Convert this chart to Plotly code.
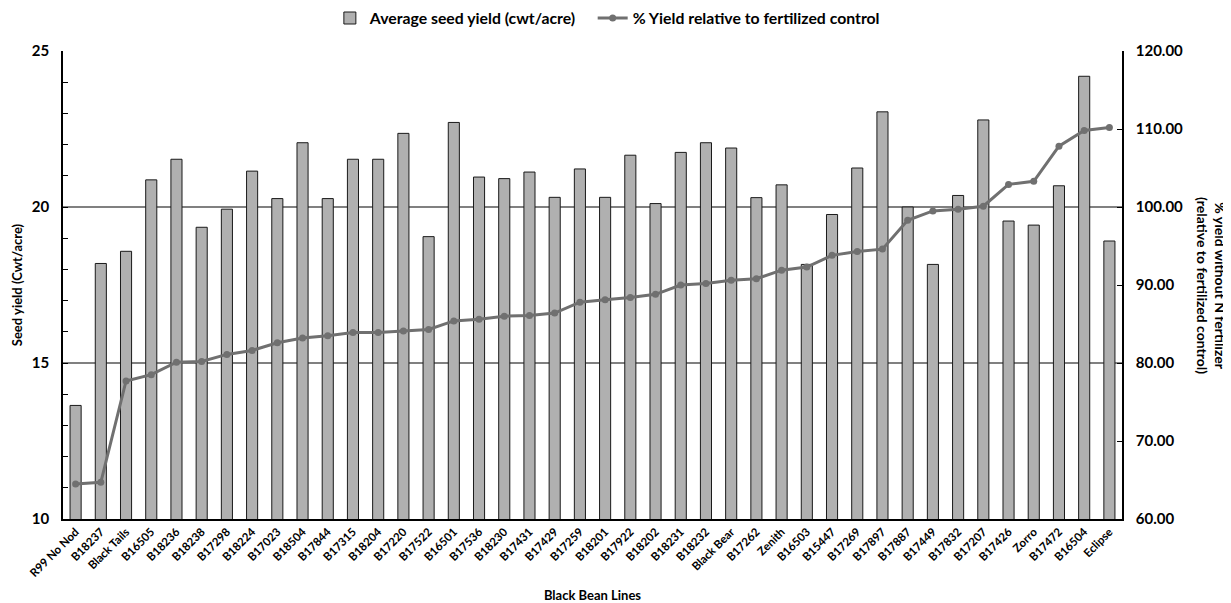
import plotly.graph_objects as go

lines = ["R99 No Nod", "B18237", "Black Tails", "B16505", "B18236", "B18238", "B17298",
         "B18224", "B17023", "B18504", "B17844", "B17315", "B18204", "B17220", "B17522",
         "B16501", "B17536", "B18230", "B17431", "B17429", "B17259", "B18201", "B17922",
         "B18202", "B18231", "B18232", "Black Bear", "B17262", "Zenith", "B16503", "B15447",
         "B17269", "B17897", "B17887", "B17449", "B17832", "B17207", "B17426", "Zorro",
         "B17472", "B16504", "Eclipse"]

seed_yield = [13.64, 18.19, 18.58, 20.87, 21.53, 19.35, 19.93, 21.15, 20.27, 22.06, 20.27,
              21.53, 21.53, 22.36, 19.05, 22.71, 20.96, 20.91, 21.12, 20.31, 21.22, 20.31,
              21.66, 20.11, 21.75, 22.06, 21.89, 20.30, 20.71, 18.16, 19.76, 21.25, 23.05,
              20.00, 18.16, 20.37, 22.79, 19.55, 19.42, 20.68, 24.19, 18.91]

pct_yield = [64.5, 64.7, 77.7, 78.5, 80.1, 80.2, 81.1, 81.6, 82.6, 83.2, 83.5, 83.9, 83.9,
             84.1, 84.3, 85.4, 85.6, 86.0, 86.1, 86.4, 87.8, 88.1, 88.4, 88.8, 90.0, 90.2,
             90.6, 90.8, 91.9, 92.3, 93.8, 94.3, 94.6, 98.3, 99.5, 99.7, 100.1, 102.9,
             103.3, 107.8, 109.8, 110.2]

left_ticks = [10, 15, 20, 25]
right_ticks = [60, 70, 80, 90, 100, 110, 120]

FONT = "Lato"

fig = go.Figure()
fig.add_trace(go.Bar(
    x=lines, y=seed_yield, name="Average seed yield (cwt/acre)&nbsp;&nbsp;&nbsp;",
    marker=dict(color="#b0b0b0", line=dict(color="#1a1a1a", width=1)),
    yaxis="y",
))
fig.add_trace(go.Scatter(
    x=lines, y=pct_yield, name="% Yield relative to fertilized control",
    mode="lines+markers",
    line=dict(color="#707070", width=3),
    marker=dict(color="#707070", size=7),
    yaxis="y2",
))

# page body has an 8px default margin: figure is sized/offset to compensate
fig.update_layout(
    width=1223, height=595,
    margin=dict(l=55, r=109, t=43, b=84, autoexpand=False),
    plot_bgcolor="white", paper_bgcolor="white",
    font=dict(family=FONT, color="#000000", weight="bold"),
    bargap=0.56,
    showlegend=True,
    legend=dict(orientation="h", x=0.252, xanchor="left", y=1.07, yref="paper",
                yanchor="middle", font=dict(size=15.8, family=FONT, weight="bold"),
                traceorder="normal", itemwidth=30, tracegroupgap=0),
    xaxis=dict(
        type="category", range=[-0.5, len(lines) - 0.5],
        tickangle=-45, showline=True, linecolor="#000000", linewidth=1.5,
        ticks="", tickfont=dict(size=11.5, family=FONT, weight="bold"), automargin=False,
        title=dict(text="Black Bean Lines", font=dict(size=13, family=FONT, weight="bold"),
                   standoff=14),
        showgrid=False,
    ),
    yaxis=dict(
        range=[10, 25], tickvals=left_ticks,
        tickfont=dict(size=15, family=FONT, weight="bold"), automargin=False,
        ticklabelstandoff=9,
        showgrid=True, gridcolor="#808080", gridwidth=1.5,
        showline=True, linecolor="#000000", linewidth=1.5,
        ticks="inside", ticklen=5, tickcolor="#000000",
        minor=dict(dtick=1, ticks="inside", ticklen=5, tickcolor="#000000", showgrid=False),
        title=dict(text="Seed yield (Cwt/acre)", font=dict(size=13, family=FONT, weight="bold"),
                   standoff=6),
        zeroline=False,
    ),
    yaxis2=dict(
        range=[60, 120], tickvals=right_ticks, tickformat=".2f",
        tickfont=dict(size=15, family=FONT, weight="bold"), automargin=False,
        ticklabelstandoff=9,
        overlaying="y", side="right", showgrid=False,
        showline=True, linecolor="#000000", linewidth=1.5,
        ticks="inside", ticklen=5, tickcolor="#000000",
        zeroline=False,
    ),
    annotations=[dict(
        text="% yield without N fertilizer<br>(relative to fertilized control)",
        xref="paper", yref="paper", x=1.0, y=0.5, xshift=90, xanchor="center",
        yanchor="middle", textangle=90, showarrow=False,
        font=dict(size=14, family=FONT, weight="bold"),
    )],
)

fig.write_html("out.html")
